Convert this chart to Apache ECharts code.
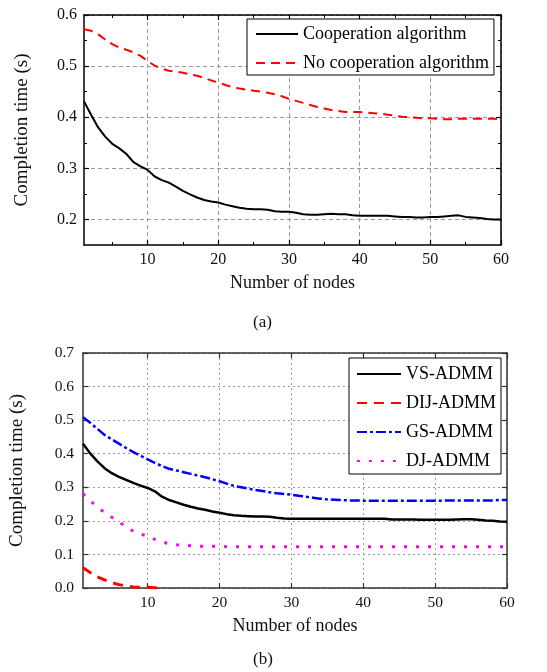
<!DOCTYPE html>
<html><head><meta charset="utf-8">
<script src="https://cdn.jsdelivr.net/npm/echarts@6/dist/echarts.min.js"></script>
<style>html,body{margin:0;padding:0;background:#fff}#c{width:547px;height:672px}</style>
</head><body><div id="c"></div>
<script>
// ---- data ----
var nodes = [];
for (var i = 1; i <= 60; i++) nodes.push(i);
var xTicks = [10, 20, 30, 40, 50, 60];
var xMinorTicksA = [5, 15, 25, 35, 45, 55];
var yTicksA = [0.2, 0.3, 0.4, 0.5, 0.6];
var yMinorTicksA = [0.25, 0.35, 0.45, 0.55];
var yTicksB = [0.0, 0.1, 0.2, 0.3, 0.4, 0.5, 0.6, 0.7];

var coopA = [0.431,0.405,0.380,0.362,0.348,0.339,0.328,0.312,0.304,0.297,
  0.284,0.277,0.272,0.264,0.256,0.249,0.243,0.238,0.235,0.233,
  0.229,0.226,0.223,0.221,0.220,0.220,0.219,0.216,0.215,0.215,
  0.213,0.210,0.209,0.209,0.210,0.211,0.210,0.210,0.208,0.207,
  0.207,0.207,0.207,0.207,0.206,0.205,0.205,0.204,0.204,0.205,
  0.205,0.206,0.207,0.208,0.205,0.204,0.203,0.201,0.200,0.200];
var noCoopA = [0.572,0.569,0.562,0.552,0.543,0.536,0.532,0.527,0.520,0.510,
  0.501,0.495,0.491,0.489,0.487,0.484,0.481,0.477,0.472,0.468,
  0.463,0.459,0.456,0.454,0.452,0.450,0.448,0.445,0.441,0.436,
  0.432,0.428,0.424,0.420,0.417,0.414,0.412,0.410,0.410,0.410,
  0.409,0.408,0.407,0.405,0.403,0.401,0.400,0.399,0.398,0.398,
  0.397,0.396,0.396,0.397,0.397,0.397,0.397,0.397,0.397,0.396];

var vsB = [0.430,0.401,0.377,0.357,0.342,0.331,0.322,0.313,0.305,0.298,
  0.288,0.272,0.262,0.255,0.248,0.242,0.237,0.233,0.228,0.224,
  0.220,0.217,0.215,0.214,0.213,0.213,0.212,0.209,0.207,0.206,
  0.206,0.206,0.206,0.206,0.206,0.206,0.206,0.206,0.206,0.206,
  0.206,0.206,0.206,0.204,0.204,0.204,0.204,0.203,0.203,0.203,
  0.203,0.203,0.204,0.205,0.205,0.203,0.201,0.200,0.198,0.197];
var dijB = [0.060,0.046,0.033,0.024,0.016,0.010,0.006,0.003,0.002,0.002,
  0.001,0.000,null,null,null,null,null,null,null,null,
  null,null,null,null,null,null,null,null,null,null,
  null,null,null,null,null,null,null,null,null,null,
  null,null,null,null,null,null,null,null,null,null,
  null,null,null,null,null,null,null,null,null,null];
var gsB = [0.509,0.492,0.474,0.456,0.443,0.430,0.417,0.405,0.394,0.383,
  0.373,0.363,0.355,0.350,0.345,0.340,0.335,0.330,0.324,0.318,
  0.311,0.304,0.300,0.296,0.292,0.289,0.285,0.282,0.280,0.278,
  0.275,0.272,0.269,0.266,0.264,0.263,0.262,0.261,0.261,0.260,
  0.260,0.260,0.260,0.260,0.260,0.260,0.260,0.260,0.260,0.260,
  0.260,0.261,0.261,0.261,0.261,0.261,0.261,0.261,0.262,0.262];
var djB = [0.281,0.260,0.241,0.225,0.211,0.197,0.182,0.169,0.161,0.154,
  0.145,0.137,0.132,0.129,0.127,0.126,0.125,0.124,0.124,0.124,
  0.123,0.123,0.123,0.123,0.123,0.123,0.123,0.123,0.123,0.123,
  0.123,0.123,0.123,0.123,0.123,0.123,0.123,0.123,0.123,0.123,
  0.123,0.123,0.123,0.123,0.123,0.123,0.123,0.123,0.123,0.123,
  0.123,0.123,0.123,0.123,0.123,0.123,0.123,0.123,0.123,0.123];

function pairs(ys){ return nodes.map(function(x,i){ return [x, ys[i]]; }); }

var FONT = 'Liberation Serif';
var chart = echarts.init(document.getElementById('c'), null, {renderer:'canvas'});

function xAx(grid, pos, show, lineColor, gridStyle, labelSize, margin, name) {
  return {
    type:'value', gridIndex:grid, position:pos, min:1, max:60,
    name: show ? name : '', nameLocation:'middle', nameGap:29,
    nameTextStyle:{fontFamily:FONT, fontSize:18, color:'#111'},
    axisLine:{show:true, onZero:false, lineStyle:{color:lineColor, width:1.5}},
    axisTick:{show:true, inside:true, length:5, customValues:xTicks, lineStyle:{color:lineColor, width:1.2}},
    axisLabel:{show:show, customValues:xTicks, fontFamily:FONT, fontSize:labelSize, color:'#111', margin:margin},
    splitLine:{show:show, lineStyle:gridStyle}
  };
}
function xMinor(grid, pos) {
  return {
    type:'value', gridIndex:grid, position:pos, min:1, max:60,
    axisLine:{show:false, onZero:false},
    axisTick:{show:true, inside:true, length:3, customValues:xMinorTicksA, lineStyle:{color:'#000', width:1}},
    axisLabel:{show:false, customValues:xMinorTicksA},
    splitLine:{show:false}
  };
}
function yAx(grid, pos, show, lineColor, gridStyle, min, max, ticks, labelSize, margin, nameGap) {
  return {
    type:'value', gridIndex:grid, position:pos, min:min, max:max,
    name: show ? 'Completion time (s)' : '', nameLocation:'middle', nameGap:nameGap,
    nameTextStyle:{fontFamily:FONT, fontSize:19, color:'#111'},
    axisLine:{show:true, onZero:false, lineStyle:{color:lineColor, width:1.5}},
    axisTick:{show:true, inside:true, length:5, customValues:ticks, lineStyle:{color:lineColor, width:1.2}},
    axisLabel:{show:show, customValues:ticks, fontFamily:FONT, fontSize:labelSize, color:'#111', margin:margin,
      formatter:function(v){ return v.toFixed(1); }},
    splitLine:{show:show, lineStyle:gridStyle}
  };
}
function yMinor(grid, pos) {
  return {
    type:'value', gridIndex:grid, position:pos, min:0.15, max:0.6,
    axisLine:{show:false, onZero:false},
    axisTick:{show:true, inside:true, length:3, customValues:yMinorTicksA, lineStyle:{color:'#000', width:1}},
    axisLabel:{show:false, customValues:yMinorTicksA},
    splitLine:{show:false}
  };
}
var gridA = {color:'#9a9a9a', width:1, type:[4,3]};
var gridB = {color:'#9a9a9a', width:1, type:[2,3]};
var hideSym = {color:'rgba(0,0,0,0)', borderColor:'rgba(0,0,0,0)', borderWidth:0, opacity:0};

var option = {
  backgroundColor:'#fff',
  animation:false,
  title:[
    {text:'(a)', left:253, top:314, textStyle:{fontFamily:FONT, fontSize:17, fontWeight:'normal', color:'#111'}, padding:0},
    {text:'(b)', left:253, top:651, textStyle:{fontFamily:FONT, fontSize:17, fontWeight:'normal', color:'#111'}, padding:0}
  ],
  grid:[
    {left:84, right:46, top:15, height:230},
    {left:81, right:40, top:353, height:235}
  ],
  xAxis:[
    xAx(0,'bottom',true,'#000',gridA,16,7,'Number of nodes'),
    xAx(0,'top',false,'#000',gridA,16,7,''),
    xAx(1,'bottom',true,'#333',gridB,15.5,7,'Number of nodes'),
    xAx(1,'top',false,'#333',gridB,15.5,7,''),
    xMinor(0,'bottom'),
    xMinor(0,'top')
  ],
  yAxis:[
    yAx(0,'left',true,'#000',gridA,0.15,0.6,yTicksA,16,7,52),
    yAx(0,'right',false,'#000',gridA,0.15,0.6,yTicksA,16,7,52),
    yAx(1,'left',true,'#333',gridB,0,0.7,yTicksB,15.5,9,56),
    yAx(1,'right',false,'#333',gridB,0,0.7,yTicksB,15.5,9,56),
    yMinor(0,'left'),
    yMinor(0,'right')
  ],
  legend:[
    {data:['Cooperation algorithm','No cooperation algorithm'], orient:'vertical', left:247, top:19,
     padding:[6,5,3,8], itemWidth:42, itemHeight:14, itemGap:11, borderColor:'#000', borderWidth:1,
     backgroundColor:'#fff', itemStyle:hideSym, textStyle:{fontFamily:FONT, fontSize:18, color:'#000'}},
    {data:['VS-ADMM','DIJ-ADMM','GS-ADMM','DJ-ADMM'], orient:'vertical', left:349, top:358,
     padding:[7,5,4,7], itemWidth:44, itemHeight:14, itemGap:11, borderColor:'#000', borderWidth:1,
     backgroundColor:'#fff', itemStyle:hideSym, textStyle:{fontFamily:FONT, fontSize:18, color:'#000'}}
  ],
  series:[
    {name:'Cooperation algorithm', type:'line', xAxisIndex:0, yAxisIndex:0, data:pairs(coopA), showSymbol:false, symbol:'none',
     lineStyle:{color:'#000', width:2}, itemStyle:{color:'#000'}},
    {name:'No cooperation algorithm', type:'line', xAxisIndex:0, yAxisIndex:0, data:pairs(noCoopA), showSymbol:false, symbol:'none',
     lineStyle:{color:'#ff0000', width:2, type:[9,6]}, itemStyle:{color:'#ff0000'}},
    {name:'VS-ADMM', type:'line', xAxisIndex:2, yAxisIndex:2, data:pairs(vsB), showSymbol:false, symbol:'none',
     lineStyle:{color:'#000', width:2.5}, itemStyle:{color:'#000'}},
    {name:'DIJ-ADMM', type:'line', xAxisIndex:2, yAxisIndex:2, data:pairs(dijB), showSymbol:false, symbol:'none',
     lineStyle:{color:'#ff0000', width:3, type:[10,7]}, itemStyle:{color:'#ff0000'}},
    {name:'GS-ADMM', type:'line', xAxisIndex:2, yAxisIndex:2, data:pairs(gsB), showSymbol:false, symbol:'none',
     lineStyle:{color:'#0000ff', width:2.5, type:[10,3,3,3]}, itemStyle:{color:'#0000ff'}},
    {name:'DJ-ADMM', type:'line', xAxisIndex:2, yAxisIndex:2, data:pairs(djB), showSymbol:false, symbol:'none',
     lineStyle:{color:'#ff00ff', width:3, type:[3,9]}, itemStyle:{color:'#ff00ff'}}
  ]
};
chart.setOption(option);
</script></body></html>
